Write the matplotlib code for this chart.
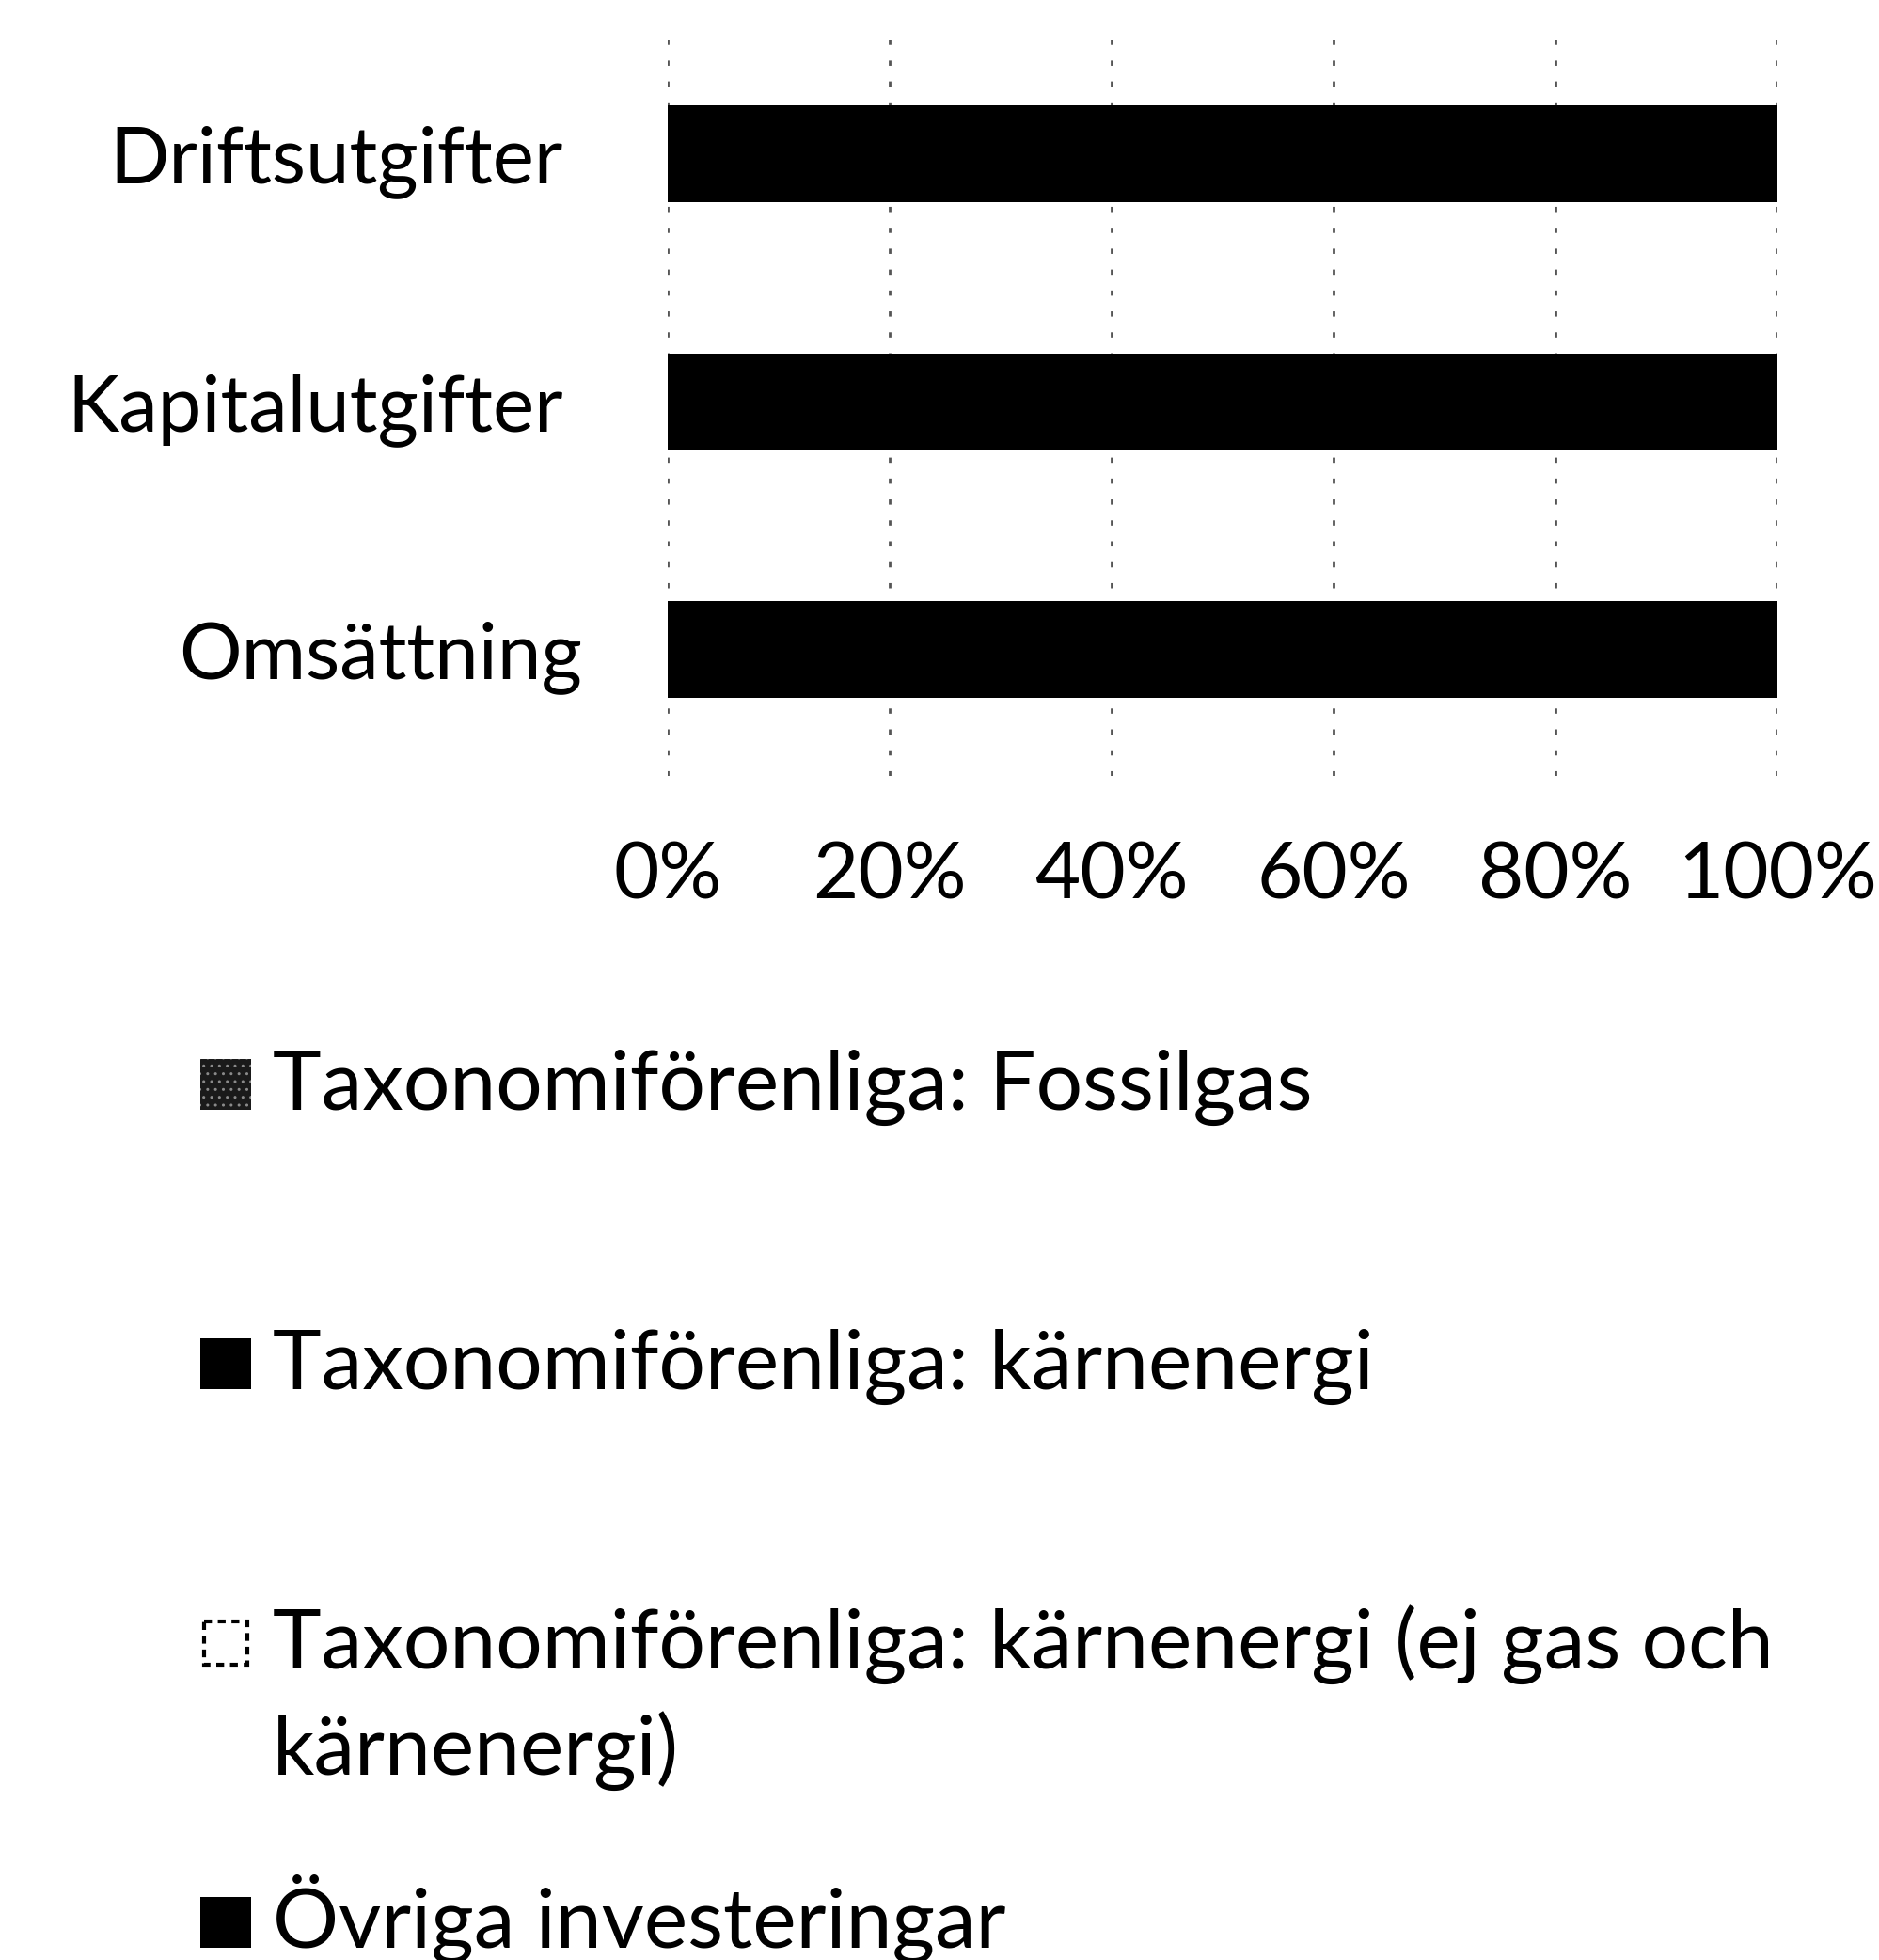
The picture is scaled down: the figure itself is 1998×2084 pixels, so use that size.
import matplotlib
matplotlib.use("Agg")
import matplotlib.pyplot as plt
from matplotlib.patches import Rectangle
import matplotlib.transforms as mtransforms
import numpy as np

plt.rcParams['font.family'] = ['Lato', 'DejaVu Sans']

categories = ["Omsättning", "Kapitalutgifter", "Driftsutgifter"]
series_names = [
    "Taxonomiförenliga: Fossilgas",
    "Taxonomiförenliga: kärnenergi",
    "Taxonomiförenliga: kärnenergi (ej gas och\nkärnenergi)",
    "Övriga investeringar",
]
fossilgas = [0, 0, 0]
karnenergi = [0, 0, 0]
ovriga_taxonomi = [0, 0, 0]
ovriga_investeringar = [100, 100, 100]
xticks = [0, 20, 40, 60, 80, 100]
xtick_labels = ["0%", "20%", "40%", "60%", "80%", "100%"]

W, H = 1999, 2084
fig = plt.figure(figsize=(W / 100, H / 100), dpi=100)
fig.patch.set_facecolor('white')

ax = fig.add_axes([710 / W, 1 - 825 / H, (1890 - 710) / W, (825 - 40) / H])

FS = 60
series = [fossilgas, karnenergi, ovriga_taxonomi, ovriga_investeringar]
styles = [
    dict(color='#222222', hatch='..', edgecolor='#777777', linewidth=0),
    dict(color='black', linewidth=0),
    dict(color='white', edgecolor='black', linewidth=0),
    dict(color='black', linewidth=0),
]
y = np.arange(len(categories))
left = np.zeros(len(categories))
for vals, st in zip(series, styles):
    ax.barh(y, vals, left=left, height=0.39, zorder=3, **st)
    left = left + np.array(vals)

ax.set_xlim(0, 100)
ax.set_ylim(-0.51, 2.47)
ax.set_xticks(xticks)
ax.set_xticklabels(xtick_labels, fontsize=FS)
ax.set_yticks(y)
ax.set_yticklabels(categories, fontsize=FS)
ax.tick_params(axis='x', length=0, pad=50)
ax.tick_params(axis='y', length=0, pad=80)
# the bottom label sits slightly further right in the reference
lbl = ax.get_yticklabels()[0]
lbl.set_transform(lbl.get_transform() + mtransforms.ScaledTranslation(20 / 100, 0, fig.dpi_scale_trans))
for s in ax.spines.values():
    s.set_visible(False)
ax.grid(axis='x', color='#555555', linestyle=(0, (2, 6)), linewidth=2, zorder=1)
ax.grid(axis='y', visible=False)

# Legend (manual, fixed spacing like the reference)
lax = fig.add_axes([0, 0, 1, 1])
lax.set_xlim(0, W)
lax.set_ylim(H, 0)
lax.axis('off')
LFS = 63
baseline0 = 1180
step = 297
line_step = 113
msize = 54
for i, name in enumerate(series_names):
    b = baseline0 + step * i
    if i == 0:
        lax.add_patch(Rectangle((213, b - msize), msize, msize, facecolor='#1a1a1a', edgecolor='none'))
        lax.add_patch(Rectangle((213, b - msize), msize, msize, facecolor='none', edgecolor='#8a8a8a', hatch='..', linewidth=0))
    elif i == 2:
        lax.add_patch(Rectangle((217, b - msize + 4), msize - 8, msize - 8, facecolor='white', edgecolor='black', linewidth=3, linestyle=(0, (2, 1.5))))
    else:
        lax.add_patch(Rectangle((213, b - msize), msize, msize, facecolor='black', edgecolor='none'))
    for k, line in enumerate(name.split("\n")):
        lax.text(290, b + k * line_step, line, fontsize=LFS, va='baseline', ha='left')

fig.savefig("out.png", dpi=100, facecolor='white')
